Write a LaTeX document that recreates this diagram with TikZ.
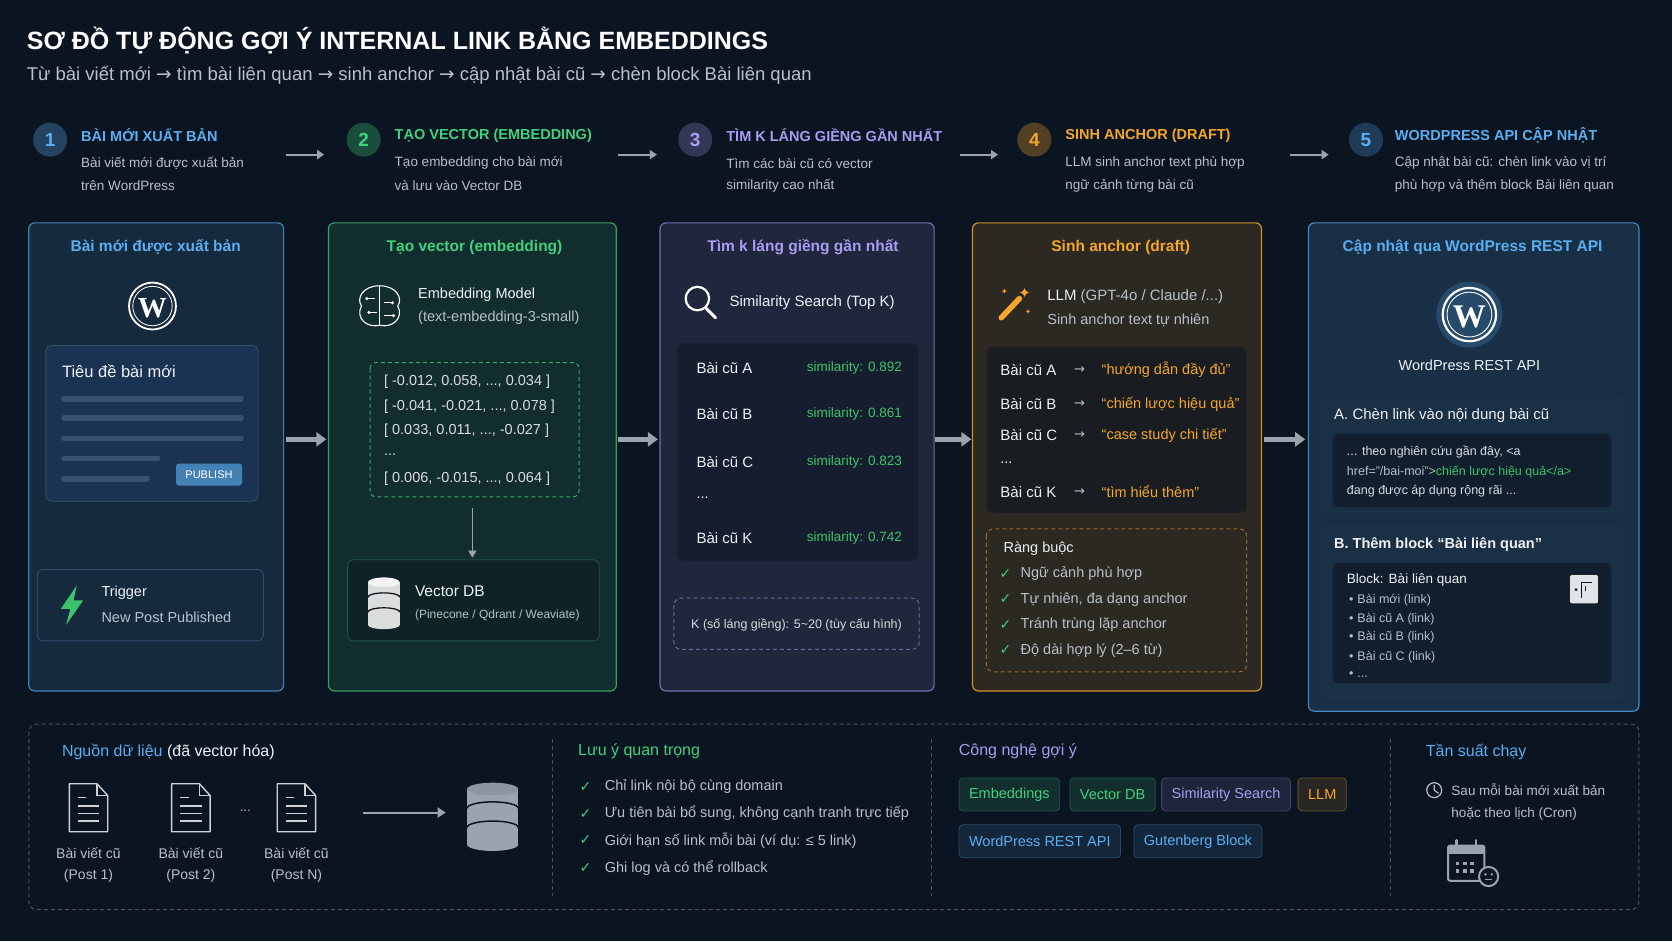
\documentclass[tikz,border=0pt]{standalone}
\usepackage{fontspec}
\setmainfont{Liberation Sans}
\newfontfamily\sym{DejaVu Sans}
\newfontfamily\serifw{Liberation Serif}
\usetikzlibrary{arrows.meta}
\definecolor{bg}{HTML}{0B1521}
\definecolor{cblue}{HTML}{5AAEF2}
\definecolor{cgreen}{HTML}{3FD17E}
\definecolor{cpurple}{HTML}{A99CF2}
\definecolor{corange}{HTML}{F5A62A}
\definecolor{tw}{HTML}{EEF2F6}
\definecolor{tg}{HTML}{B8C0CA}
\definecolor{agray}{HTML}{9AA4AE}
\definecolor{simg}{HTML}{3CC46C}
\definecolor{cardc}{HTML}{1B3352}
\definecolor{cardb}{HTML}{34506F}
\definecolor{barc}{HTML}{3A5272}
\begin{document}
\begin{tikzpicture}[x=1.0663pt,y=-1.0663pt,
  txt/.style={anchor=west,inner sep=0pt,text=tw,font=\fontsize{14.5}{16}\selectfont},
  gtxt/.style={txt,text=tg},
  ptitle/.style={inner sep=0pt,font=\bfseries\fontsize{15.5}{17}\selectfont},
  stitle/.style={anchor=west,inner sep=0pt,font=\bfseries\fontsize{14.5}{16}\selectfont},
  sdesc/.style={anchor=west,inner sep=0pt,text=tg,font=\fontsize{13.5}{15}\selectfont},
  num/.style={circle,minimum size=34pt,inner sep=0pt,font=\bfseries\fontsize{19}{20}\selectfont},
  panel/.style={rounded corners=6pt,line width=1.2pt},
  card/.style={rounded corners=6pt,line width=0.8pt},
  sarr/.style={draw=agray,line width=2pt,-{Triangle[length=7pt,width=9pt]}},
  barr/.style={draw=agray,line width=4.5pt,-{Triangle[length=10pt,width=14pt]}},
  tag/.style={rounded corners=4pt,line width=0.8pt,minimum height=33pt,inner xsep=10pt,font=\fontsize{14.5}{16}\selectfont},
  chk/.style={anchor=center,inner sep=0pt,text=cgreen,font=\sym\bfseries\fontsize{14}{14}\selectfont},
]
\fill[bg] (0,0) rectangle (1568,882.5);
\useasboundingbox (0,0) rectangle (1568,882.5);
% title
\node[anchor=west,inner sep=0pt,text=white,font=\bfseries\fontsize{25}{28}\selectfont] (title) at (25,38) {SƠ ĐỒ TỰ ĐỘNG GỢI Ý INTERNAL LINK BẰNG EMBEDDINGS};
\node[anchor=west,inner sep=0pt,text=tg,font=\fontsize{18.5}{21}\selectfont] (subtitle) at (25,71) {Từ bài viết mới {\sym→} tìm bài liên quan {\sym→} sinh anchor {\sym→} cập nhật bài cũ {\sym→} chèn block Bài liên quan};
% steps
\node[num,fill=cblue!30!bg,text=cblue] (n1) at (47,131) {1};
\node[stitle,text=cblue] (s1) at (76,127) {BÀI MỚI XUẤT BẢN};
\node[sdesc] (d1a) at (76,153) {Bài viết mới được xuất bản};
\node[sdesc] (d1b) at (76,174) {trên WordPress};
\node[num,fill=cgreen!30!bg,text=cgreen] (n2) at (341,131) {2};
\node[stitle,text=cgreen] (s2) at (370,127) {TẠO VECTOR (EMBEDDING)};
\node[sdesc] (d2a) at (370,153) {Tạo embedding cho bài mới};
\node[sdesc] (d2b) at (370,174) {và lưu vào Vector DB};
\node[num,fill=cpurple!25!bg,text=cpurple] (n3) at (652,131) {3};
\node[stitle,text=cpurple] (s3) at (681,127) {TÌM K LÁNG GIỀNG GẦN NHẤT};
\node[sdesc] (d3a) at (681,153) {Tìm các bài cũ có vector};
\node[sdesc] (d3b) at (681,174) {similarity cao nhất};
\node[num,fill=corange!30!bg,text=corange] (n4) at (970,131) {4};
\node[stitle,text=corange] (s4) at (999,127) {SINH ANCHOR (DRAFT)};
\node[sdesc] (d4a) at (999,153) {LLM sinh anchor text phù hợp};
\node[sdesc] (d4b) at (999,174) {ngữ cảnh từng bài cũ};
\node[num,fill=cblue!25!bg,text=cblue] (n5) at (1281,131) {5};
\node[stitle,text=cblue] (s5) at (1308,127) {WORDPRESS API CẬP NHẬT};
\node[sdesc] (d5a) at (1308,153) {Cập nhật bài cũ: chèn link vào vị trí};
\node[sdesc] (d5b) at (1308,174) {phù hợp và thêm block Bài liên quan};
\coordinate (sa1) at (268,145); \coordinate (sb1) at (304,145);
\coordinate (sa2) at (580,145); \coordinate (sb2) at (616,145);
\coordinate (sa3) at (900,145); \coordinate (sb3) at (936,145);
\coordinate (sa4) at (1210,145); \coordinate (sb4) at (1246,145);
\draw[sarr] (sa1)--(sb1); \draw[sarr] (sa2)--(sb2); \draw[sarr] (sa3)--(sb3); \draw[sarr] (sa4)--(sb4);
% ---------- panel 1
\draw[panel,fill=cblue!14!bg,draw=cblue!70!bg] (27,209) rectangle (266,648);
\node[ptitle,text=cblue] (p1t) at (146,232) {Bài mới được xuất bản};
\draw[white,line width=1.8pt] (143,287) circle (22);
\draw[white,line width=0.8pt] (143,287) circle (18.5);
\node[text=white,font=\serifw\bfseries\fontsize{29}{30}\selectfont,inner sep=0pt] (wp1) at (143,289) {W};
\draw[card,fill=cardc,draw=cardb] (43,324) rectangle (242,470);
\node[txt,font=\fontsize{16.5}{18}\selectfont] (tieude) at (58,348) {Tiêu đề bài mới};
\foreach \yy/\xe in {374/226,392/226,411/226,430/148,449/138}
  \draw[line width=5.5pt,line cap=round,draw=barc] (60,\yy)--(\xe,\yy);
\node[fill=cblue!75!black,rounded corners=3pt,text=white,font=\fontsize{11}{12}\selectfont,minimum width=66pt,minimum height=22pt,inner sep=0pt] (pub) at (196,445) {PUBLISH};
\draw[card,fill=cblue!14!bg,draw=cardb] (35,534) rectangle (247,601);
\fill[simg] (72,549)--(57,571)--(66,571)--(62,586)--(78,563)--(69,563)--cycle;
\node[txt] (trig) at (95,556) {Trigger};
\node[gtxt] (npp) at (95,579) {New Post Published};
% ---------- panel 2
\draw[panel,fill=cgreen!13!bg,draw=cgreen!75!bg] (308,209) rectangle (578,648);
\node[ptitle,text=cgreen] (p2t) at (445,232) {Tạo vector (embedding)};
\draw[white,line width=1.1pt] (356,268) .. controls (340,268) and (334,280) .. (339,287) .. controls (333,298) and (344,308) .. (356,305) .. controls (368,308) and (379,298) .. (373,287) .. controls (378,280) and (372,268) .. (356,268);
\draw[white,line width=1pt] (356,268)--(356,305) (344,280)--(352,280) (346,293)--(354,293) (360,284)--(368,284) (360,296)--(369,296);
\foreach \p in {(344,280),(346,293),(368,284),(369,296)} \fill[white] \p circle (1.6);
\node[txt] (emb) at (392,276) {Embedding Model};
\node[gtxt] (embm) at (392,298) {(text-embedding-3-small)};
\draw[cgreen!80!bg,rounded corners=6pt,line width=1pt,dash pattern=on 4pt off 3pt] (347,340) rectangle (543,466);
\node[gtxt,text=tw!90!bg] (v1) at (360,358) {[ -0.012, 0.058, ..., 0.034 ]};
\node[gtxt,text=tw!90!bg] (v2) at (360,381) {[ -0.041, -0.021, ..., 0.078 ]};
\node[gtxt,text=tw!90!bg] (v3) at (360,404) {[ 0.033, 0.011, ..., -0.027 ]};
\node[gtxt,text=tw!90!bg] (v4) at (360,426) {...};
\node[gtxt,text=tw!90!bg] (v5) at (360,449) {[ 0.006, -0.015, ..., 0.064 ]};
\draw[card,fill=black!25!cgreen!10!bg,draw=cgreen!35!bg] (326,525) rectangle (562,601);
\coordinate (vtop) at (443,476);
\draw[agray,line width=1.6pt,-{Triangle[length=7pt,width=8pt]}] (vtop)--(443,523);
\foreach \yy in {552,566,580}{
  \fill[white!85!bg] (345,\yy-6) rectangle (375,\yy+6);
  \fill[white!85!bg] (360,\yy+6) ellipse (15 and 4);
  \draw[black!60!bg,line width=1.2pt] (345,\yy-6) arc (180:360:15 and 4);}
\fill[white!95!bg] (360,546) ellipse (15 and 4.5);
\node[txt,font=\fontsize{15.5}{17}\selectfont] (vdb) at (389,554) {Vector DB};
\node[gtxt,font=\fontsize{12}{13}\selectfont] (vdbs) at (389,577) {(Pinecone / Qdrant / Weaviate)};
% ---------- panel 3
\draw[panel,fill=cpurple!13!bg,draw=cpurple!65!bg] (619,209) rectangle (876,648);
\node[ptitle,text=cpurple] (p3t) at (753,232) {Tìm k láng giềng gần nhất};
\draw[white,line width=2.2pt] (654,280) circle (11);
\draw[white,line width=3pt,line cap=round] (662,289)--(671,298);
\node[txt,font=\fontsize{15}{17}\selectfont] (sim) at (684,284) {Similarity Search (Top K)};
\draw[card,fill=black!20!cpurple!8!bg,draw=white!18!cpurple!8!bg] (635,322) rectangle (861,526);
\foreach \yy in {366,410,451,484} \draw[white!22!cpurple!8!bg,line width=1pt] (645,\yy)--(851,\yy);
\foreach \yy/\l/\s in {345/A/0.892,388/B/0.861,433/C/0.823,505/K/0.742}{
  \node[txt,font=\fontsize{15}{17}\selectfont] at (653,\yy) {Bài cũ \l};
  \node[anchor=east,inner sep=0pt,text=simg,font=\fontsize{13.5}{14}\selectfont] at (846,\yy) {similarity: \s};}
\node[txt] (dots3) at (653,467) {...};
\draw[cpurple!60!bg,rounded corners=7pt,line width=1pt,dash pattern=on 4pt off 3pt] (632,561) rectangle (862,609);
\node[inner sep=0pt,text=tw!90!bg,font=\fontsize{12.5}{14}\selectfont] (kk) at (747,586) {K (số láng giềng): 5\textasciitilde 20 (tùy cấu hình)};
% ---------- panel 4
\draw[panel,fill=corange!14!bg,draw=corange!85!bg] (912,209) rectangle (1183,648);
\node[ptitle,text=corange] (p4t) at (1051,232) {Sinh anchor (draft)};
\draw[corange,line width=5.5pt,line cap=round] (939,298)--(956,280);
\node[text=corange,inner sep=0pt,font=\sym\fontsize{15}{15}\selectfont] at (961,275) {✦};
\node[text=corange,inner sep=0pt,font=\sym\fontsize{8}{8}\selectfont] at (942,273) {✦};
\node[text=corange,inner sep=0pt,font=\sym\fontsize{7}{7}\selectfont] at (964,293) {✦};
\node[txt,font=\fontsize{15}{17}\selectfont] (llm) at (982,278) {LLM \textcolor{tg}{(GPT-4o / Claude /...)}};
\node[gtxt] (llm2) at (982,300) {Sinh anchor text tự nhiên};
\draw[card,fill=black!25!corange!8!bg,draw=white!12!corange!10!bg] (925,325) rectangle (1169,481);
\foreach \yy/\l/\q in {347/A/{“hướng dẫn đầy đủ”},379/B/{“chiến lược hiệu quả”},408/C/{“case study chi tiết”},461/K/{“tìm hiểu thêm”}}{
  \node[txt,font=\fontsize{15}{17}\selectfont] at (938,\yy) {Bài cũ \l};
  \node[txt,font=\sym\fontsize{13}{13}\selectfont,text=tg] at (1007,\yy) {→};
  \node[txt,text=corange] at (1033,\yy) {\q};}
\node[txt] (dots4) at (938,434) {...};
\draw[corange!60!bg,rounded corners=7pt,line width=1pt,dash pattern=on 4pt off 3pt] (925,496) rectangle (1169,630);
\node[txt] (rb) at (941,515) {Ràng buộc};
\foreach \yy/\t in {538/{Ngữ cảnh phù hợp},562/{Tự nhiên, đa dạng anchor},586/{Tránh trùng lặp anchor},610/{Độ dài hợp lý (2–6 từ)}}{
  \node[chk] at (943,\yy) {✓};
  \node[gtxt] at (957,\yy) {\t};}
% ---------- panel 5
\draw[panel,fill=cblue!17!bg,draw=cblue!75!bg] (1227,209) rectangle (1537,667);
\node[ptitle,text=cblue] (p5t) at (1381,232) {Cập nhật qua WordPress REST API};
\fill[cblue!35!bg] (1378,295) circle (31);
\draw[white,line width=2.2pt] (1378,295) circle (25);
\draw[white,line width=0.9pt] (1378,295) circle (21);
\node[text=white,font=\serifw\bfseries\fontsize{33}{34}\selectfont,inner sep=0pt] (wp5) at (1378,297) {W};
\node[inner sep=0pt,text=tw,font=\fontsize{14.5}{16}\selectfont] (wpapi) at (1378,343) {WordPress REST API};
\draw[card,fill=white!6!cblue!17!bg,draw=white!15!cblue!20!bg] (1239,372) rectangle (1522,480);
\node[txt,font=\fontsize{15}{16}\selectfont] (ba) at (1251,390) {A. Chèn link vào nội dung bài cũ};
\draw[card,fill=black!35!cblue!10!bg,draw=white!12!cblue!12!bg] (1250,407) rectangle (1511,476);
\node[gtxt,text=tw!90!bg,font=\fontsize{12.5}{14}\selectfont] (c1) at (1263,424) {... theo nghiên cứu gần đây, <a};
\node[gtxt,text=tg,font=\fontsize{12.5}{14}\selectfont] (c2) at (1263,443) {href="/bai-moi">\textcolor{simg}{chiến lược hiệu quả</a>}};
\node[gtxt,text=tw!90!bg,font=\fontsize{12.5}{14}\selectfont] (c3) at (1263,461) {đang được áp dụng rộng rãi ...};
\draw[card,fill=white!6!cblue!17!bg,draw=white!15!cblue!20!bg] (1239,494) rectangle (1522,655);
\node[txt,font=\bfseries\fontsize{14.5}{16}\selectfont] (bb) at (1251,511) {B. Thêm block “Bài liên quan”};
\draw[card,fill=black!35!cblue!10!bg,draw=white!12!cblue!12!bg] (1250,528) rectangle (1511,641);
\node[txt,font=\fontsize{13.5}{15}\selectfont] (blk) at (1263,544) {Block: Bài liên quan};
\foreach \yy/\t in {563/{Bài mới (link)},581/{Bài cũ A (link)},598/{Bài cũ B (link)},616/{Bài cũ C (link)},633/{...}}
  \node[gtxt,font=\fontsize{12.5}{14}\selectfont] at (1265,\yy) {•\hspace{4pt}\t};
\draw[fill=white!88!bg,rounded corners=2pt] (1472,539) rectangle (1499,566);
\draw[bg,line width=1.3pt] (1483,546)--(1483,561) (1483,546)--(1493,546) (1487,550)--(1487,554);
\fill[bg] (1478,553) circle (1.5);
% big arrows
\coordinate (b1a) at (268,412); \coordinate (b1b) at (306,412);
\coordinate (b2a) at (580,412); \coordinate (b2b) at (617,412);
\coordinate (b3a) at (877,412); \coordinate (b3b) at (911,412);
\coordinate (b4a) at (1185,412); \coordinate (b4b) at (1224,412);
\draw[barr] (b1a)--(b1b); \draw[barr] (b2a)--(b2b); \draw[barr] (b3a)--(b3b); \draw[barr] (b4a)--(b4b);
% ---------- bottom
\draw[white!25!bg,rounded corners=8pt,line width=1pt,dash pattern=on 4pt off 3pt] (27,679) rectangle (1537,853);
\foreach \xx in {518,874,1304} \draw[white!25!bg,line width=1pt,dash pattern=on 4pt off 3pt] (\xx,693)--(\xx,840);
\node[txt,font=\fontsize{16}{17}\selectfont] (nguon) at (58,705) {\textcolor{cblue}{Nguồn dữ liệu} (đã vector hóa)};
\foreach \xx/\n in {83/1,179/2,278/N}{
  \draw[white!80!bg,line width=1.4pt,line join=round] (\xx-18,735)--(\xx+8,735)--(\xx+18,746)--(\xx+18,780)--(\xx-18,780)--cycle;
  \draw[white!80!bg,line width=1.2pt] (\xx+8,735)--(\xx+8,746)--(\xx+18,746);
  \draw[white!80!bg,line width=1.3pt] (\xx-10,748)--(\xx-2,748) (\xx-10,756)--(\xx+10,756) (\xx-10,763)--(\xx+10,763) (\xx-10,770)--(\xx+10,770);
  \node[inner sep=0pt,text=tg,font=\fontsize{14}{15}\selectfont] at (\xx,800) {Bài viết cũ};
  \node[inner sep=0pt,text=tg,font=\fontsize{14}{15}\selectfont] at (\xx,821) {(Post \n)};}
\node[inner sep=0pt,text=tg,font=\fontsize{13}{15}\selectfont] (dotsb) at (230,760) {...};
\coordinate (da) at (340,762); \coordinate (db) at (418,762);
\draw[agray,line width=2pt,-{Triangle[length=8pt,width=10pt]}] (da)--(db);
\foreach \yy in {748,766,784}{
  \fill[agray] (438,\yy-8) rectangle (486,\yy+8);
  \fill[agray] (462,\yy+8) ellipse (24 and 6);
  \draw[bg,line width=1.5pt] (438,\yy-8) arc (180:360:24 and 6);}
\fill[agray!115] (462,740) ellipse (24 and 6);
\node[txt,text=cgreen,font=\fontsize{16}{17}\selectfont] (luu) at (542,705) {Lưu ý quan trọng};
\foreach \yy/\t in {738/{Chỉ link nội bộ cùng domain},763/{Ưu tiên bài bổ sung, không cạnh tranh trực tiếp},788/{Giới hạn số link mỗi bài (ví dụ: ≤ 5 link)},814/{Ghi log và có thể rollback}}{
  \node[chk] at (549,\yy) {✓};
  \node[gtxt] at (567,\yy) {\t};}
\node[txt,text=cpurple,font=\fontsize{16}{17}\selectfont] (cn) at (899,705) {Công nghệ gợi ý};
\node[tag,anchor=west,fill=cgreen!14!bg,draw=cgreen!35!bg,text=cgreen] (t1) at (899,745) {Embeddings};
\node[tag,anchor=west,fill=cgreen!14!bg,draw=cgreen!35!bg,text=cgreen] (t2) at (1003,745) {Vector DB};
\node[tag,anchor=west,fill=cpurple!12!bg,draw=cpurple!35!bg,text=cpurple] (t3) at (1089,745) {Similarity Search};
\node[tag,anchor=west,fill=corange!12!bg,draw=corange!40!bg,text=corange] (t4) at (1217,745) {LLM};
\node[tag,anchor=west,fill=cblue!12!bg,draw=cblue!35!bg,text=cblue] (t5) at (899,789) {WordPress REST API};
\node[tag,anchor=west,fill=cblue!12!bg,draw=cblue!35!bg,text=cblue] (t6) at (1063,789) {Gutenberg Block};
\node[txt,text=cblue,font=\fontsize{16}{17}\selectfont] (ts) at (1337,705) {Tần suất chạy};
\draw[tg,line width=1.2pt] (1345,741) circle (7);
\draw[tg,line width=1.2pt] (1345,736)--(1345,741)--(1349,744);
\node[gtxt,font=\fontsize{13.5}{15}\selectfont] (sau) at (1361,741) {Sau mỗi bài mới xuất bản};
\node[gtxt,font=\fontsize{13.5}{15}\selectfont] (hoac) at (1361,763) {hoặc theo lịch (Cron)};
\draw[agray,line width=2pt,rounded corners=2pt] (1358,793) rectangle (1392,826);
\fill[agray] (1358,793) rectangle (1392,801);
\draw[agray,line width=2.5pt,line cap=round] (1366,788)--(1366,796) (1384,788)--(1384,796);
\foreach \xx in {1365,1372,1379} \foreach \yy in {808,815} \fill[agray] (\xx,\yy) rectangle +(3.5,3.5);
\draw[agray,fill=bg,line width=2pt] (1396,822) circle (9);
\fill[agray] (1393,820) circle (1.3) (1399,820) circle (1.3);
\draw[agray,line width=1pt] (1393,825)--(1399,825);
\end{tikzpicture}
\end{document}
